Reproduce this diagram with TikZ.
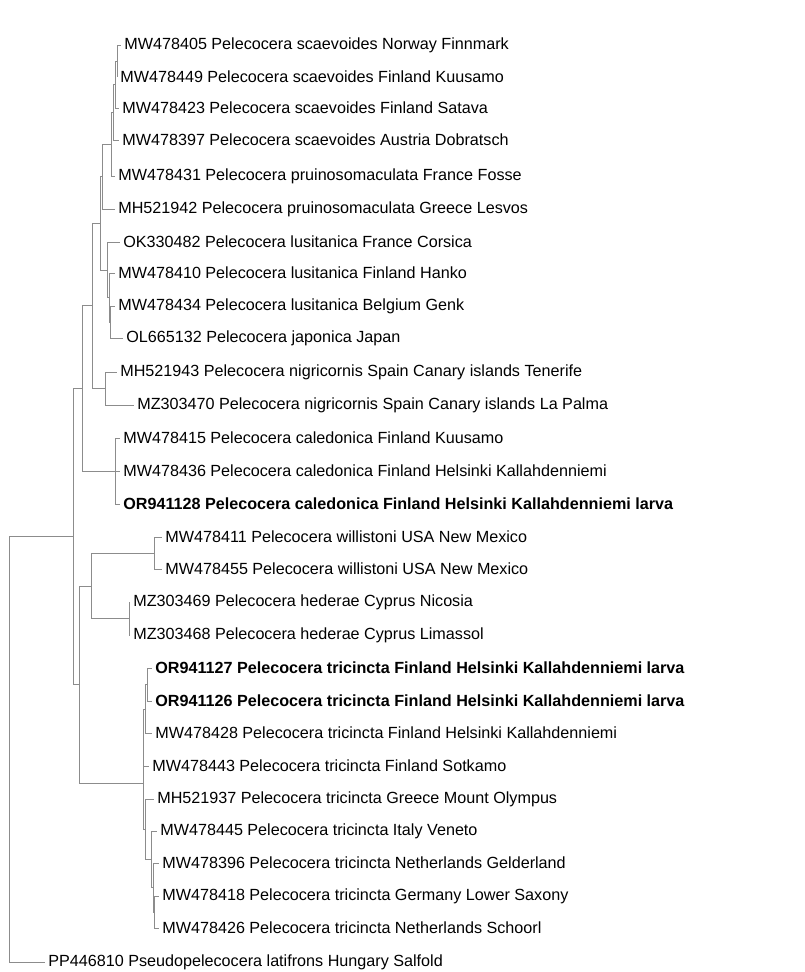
\documentclass[tikz,border=0pt]{standalone}
\usepackage{fontspec}
\setmainfont{Liberation Sans}
\definecolor{treegray}{RGB}{140,140,140}
\tikzset{
  branch/.style={draw=treegray, line width=0.55pt},
  taxon/.style={anchor=west, inner xsep=1.7pt, inner ysep=1pt, font=\fontsize{9.2}{11}\selectfont},
  newseq/.style={taxon, font=\fontsize{9.2}{11}\selectfont\bfseries},
}
\begin{document}
\begin{tikzpicture}[x=0.02cm, y=-0.02cm]
\useasboundingbox (0,0) rectangle (804,972);
% taxa
\node[taxon] (t01) at (121,45) {MW478405 Pelecocera scaevoides Norway Finnmark};
\node[taxon] (t02) at (117,77) {MW478449 Pelecocera scaevoides Finland Kuusamo};
\node[taxon] (t03) at (119,108) {MW478423 Pelecocera scaevoides Finland Satava};
\node[taxon] (t04) at (119,140) {MW478397 Pelecocera scaevoides Austria Dobratsch};
\node[taxon] (t05) at (115,176) {MW478431 Pelecocera pruinosomaculata France Fosse};
\node[taxon] (t06) at (115,209) {MH521942 Pelecocera pruinosomaculata Greece Lesvos};
\node[taxon] (t07) at (120,242) {OK330482 Pelecocera lusitanica France Corsica};
\node[taxon] (t08) at (115,273) {MW478410 Pelecocera lusitanica Finland Hanko};
\node[taxon] (t09) at (115,306) {MW478434 Pelecocera lusitanica Belgium Genk};
\node[taxon] (t10) at (123,338) {OL665132 Pelecocera japonica Japan};
\node[taxon] (t11) at (117,372) {MH521943 Pelecocera nigricornis Spain Canary islands Tenerife};
\node[taxon] (t12) at (134,405) {MZ303470 Pelecocera nigricornis Spain Canary islands La Palma};
\node[taxon] (t13) at (120,438) {MW478415 Pelecocera caledonica Finland Kuusamo};
\node[taxon] (t14) at (120,471) {MW478436 Pelecocera caledonica Finland Helsinki Kallahdenniemi};
\node[newseq] (t15) at (120,504) {OR941128 Pelecocera caledonica Finland Helsinki Kallahdenniemi larva};
\node[taxon] (t16) at (162,537) {MW478411 Pelecocera willistoni USA New Mexico};
\node[taxon] (t17) at (162,569) {MW478455 Pelecocera willistoni USA New Mexico};
\node[taxon] (t18) at (130,602) {MZ303469 Pelecocera hederae Cyprus Nicosia};
\node[taxon] (t19) at (130,635) {MZ303468 Pelecocera hederae Cyprus Limassol};
\node[newseq] (t20) at (152,668) {OR941127 Pelecocera tricincta Finland Helsinki Kallahdenniemi larva};
\node[newseq] (t21) at (152,701) {OR941126 Pelecocera tricincta Finland Helsinki Kallahdenniemi larva};
\node[taxon] (t22) at (152,733) {MW478428 Pelecocera tricincta Finland Helsinki Kallahdenniemi};
\node[taxon] (t23) at (149,766) {MW478443 Pelecocera tricincta Finland Sotkamo};
\node[taxon] (t24) at (154,799) {MH521937 Pelecocera tricincta Greece Mount Olympus};
\node[taxon] (t25) at (157,831) {MW478445 Pelecocera tricincta Italy Veneto};
\node[taxon] (t26) at (159,863) {MW478396 Pelecocera tricincta Netherlands Gelderland};
\node[taxon] (t27) at (159,896) {MW478418 Pelecocera tricincta Germany Lower Saxony};
\node[taxon] (t28) at (159,928) {MW478426 Pelecocera tricincta Netherlands Schoorl};
\node[taxon] (t29) at (45,962) {PP446810 Pseudopelecocera latifrons Hungary Salfold};
% internal nodes
\coordinate (n12) at (117,61);
\coordinate (n123) at (115,84.5);
\coordinate (n1234) at (113,112);
\coordinate (nM) at (111,144);
\coordinate (nL) at (102,176.5);
\coordinate (n910) at (110,322);
\coordinate (n8) at (109,297.5);
\coordinate (nN) at (107.5,270);
\coordinate (nK) at (100,223);
\coordinate (nJ) at (105,388.5);
\coordinate (nI) at (92,305.5);
\coordinate (nH) at (115,471);
\coordinate (nG) at (82,388);
\coordinate (nD) at (154,553);
\coordinate (nE) at (129,618.5);
\coordinate (nC) at (91,586);
\coordinate (n2021) at (147,684.5);
\coordinate (n2022) at (145,709);
\coordinate (n2023) at (143.5,737.5);
\coordinate (n2728) at (154,912);
\coordinate (n26) at (153,887.5);
\coordinate (n25) at (151,859);
\coordinate (n24) at (145,829);
\coordinate (nF) at (143,783);
\coordinate (nB) at (79,684.5);
\coordinate (nA) at (73,536);
\coordinate (root) at (9,749);
% branches
\draw[branch] (n12) |- (t01.west) (n12) |- (t02.west);
\draw[branch] (n123) |- (n12) (n123) |- (t03.west);
\draw[branch] (n1234) |- (n123) (n1234) |- (t04.west);
\draw[branch] (nM) |- (n1234) (nM) |- (t05.west);
\draw[branch] (nL) |- (nM) (nL) |- (t06.west);
\draw[branch] (n910) |- (t09.west) (n910) |- (t10.west);
\draw[branch] (n8) |- (t08.west) (n8) |- (n910);
\draw[branch] (nN) |- (t07.west) (nN) |- (n8);
\draw[branch] (nK) |- (nL) (nK) |- (nN);
\draw[branch] (nJ) |- (t11.west) (nJ) |- (t12.west);
\draw[branch] (nI) |- (nK) (nI) |- (nJ);
\draw[branch] (nH) |- (t13.west) (nH) -- (t14.west) (nH) |- (t15.west);
\draw[branch] (nG) |- (nI) (nG) |- (nH);
\draw[branch] (nD) |- (t16.west) (nD) |- (t17.west);
\draw[branch] (nE) |- (t18.west) (nE) |- (t19.west);
\draw[branch] (nC) |- (nD) (nC) |- (nE);
\draw[branch] (n2021) |- (t20.west) (n2021) |- (t21.west);
\draw[branch] (n2022) |- (n2021) (n2022) |- (t22.west);
\draw[branch] (n2023) |- (n2022) (n2023) |- (t23.west);
\draw[branch] (n2728) |- (t27.west) (n2728) |- (t28.west);
\draw[branch] (n26) |- (t26.west) (n26) |- (n2728);
\draw[branch] (n25) |- (t25.west) (n25) |- (n26);
\draw[branch] (n24) |- (t24.west) (n24) |- (n25);
\draw[branch] (nF) |- (n2023) (nF) |- (n24);
\draw[branch] (nB) |- (nC) (nB) |- (nF);
\draw[branch] (nA) |- (nG) (nA) |- (nB);
\draw[branch] (root) |- (nA) (root) |- (t29.west);
\end{tikzpicture}
\end{document}
